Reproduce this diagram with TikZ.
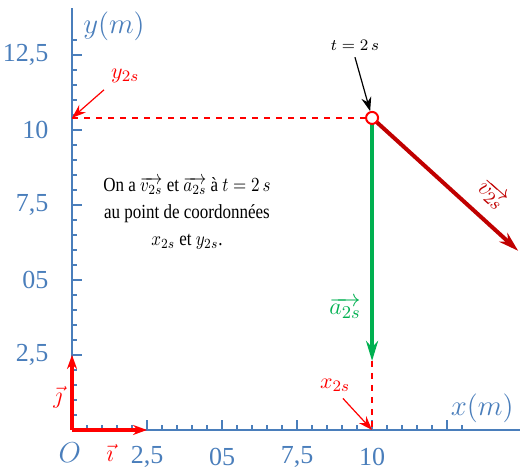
\documentclass[tikz,border=0pt]{standalone}
\usepackage{fontspec}
\setmainfont{Liberation Serif}
\usetikzlibrary{positioning,arrows.meta}
\definecolor{axisblue}{RGB}{74,126,187}
\definecolor{vred}{RGB}{192,0,0}
\definecolor{agreen}{RGB}{0,176,80}

\begin{document}
\begin{tikzpicture}[
  x=15pt, y=15pt, >={Stealth[length=7pt,width=5pt]},
  axis/.style={draw=axisblue, line width=1pt},
  tk/.style={draw=axisblue, line width=0.8pt},
  lab/.style={text=axisblue, font=\fontsize{13}{15}\selectfont},
  note/.style={text=red, font=\fontsize{11}{13}\selectfont},
  vec/.style={->, line width=2pt},
  guide/.style={draw=red, dashed, line width=0.6pt},
]
\useasboundingbox (-2.4,-1.3) rectangle (14.93,14.33);

% axes
\coordinate (O) at (0,0);
\coordinate (xend) at (14.93,0);
\coordinate (yend) at (0,14.07);
\draw[axis] (O) -- (xend);
\draw[axis] (O) -- (yend);
\foreach \k in {1,...,26}{
  \pgfmathsetmacro{\len}{ifthenelse(mod(\k,5)==0,0.34,0.17)}
  \draw[tk] (\k/2,0) -- ++(0,\len);
  \draw[tk] (0,\k/2) -- ++(\len,0);
}
\foreach \v/\t [count=\n] in {2.5/{2,5}, 5/05, 7.5/{7,5}, 10/10}
  \node[lab] (xt\n) at (\v,-0.9) {\t};
\foreach \v/\t [count=\n] in {2.5/{2,5}, 5/05, 7.5/{7,5}, 10/10, 12.5/{12,5}}
  \node[lab, anchor=east] (yt\n) at (-0.55,\v) {\t};
\node[lab, font=\fontsize{14}{16}\selectfont] (ylab) at (1.4,13.45) {$y(m)$};
\node[lab, font=\fontsize{14}{16}\selectfont] (xlab) at (13.67,0.73) {$x(m)$};
\node[lab, font=\fontsize{14}{16}\selectfont] (olab) at (-0.07,-0.75) {$O$};

% unit vectors
\coordinate (iend) at (2.5,0);
\coordinate (jend) at (0,2.5);
\draw[vec, red] (O) -- (iend);
\draw[vec, red] (O) -- (jend);
\node[text=red, font=\fontsize{13}{15}\selectfont] (ilab) at (1.27,-0.75) {$\vec{\imath}$};
\node[text=red, font=\fontsize{13}{15}\selectfont] (jlab) at (-0.47,1.1) {$\vec{\jmath}$};

% point at t = 2 s
\coordinate (P) at (10,10.4);
\coordinate (Y) at (0,10.4);
\coordinate (X) at (10,0);
\coordinate (vend) at (14.87,5.97);
\coordinate (aend) at (10,2.3);
\draw[guide] (Y) -- (P);
\draw[guide] (aend) -- (X);
\draw[vec, agreen, >={Stealth[length=10pt,width=6pt]}] (P) -- (aend);
\draw[vec, vred, >={Stealth[length=10pt,width=6pt]}] (P) -- (vend);
\node[draw=red, fill=white, circle, line width=1pt, minimum size=6pt, inner sep=0pt] (Pc) at (P) {};

% labels
\node[font=\fontsize{8.5}{10}\selectfont] (tlab) at (9.43,12.83) {$t=2\,s$};
\draw[->, line width=0.6pt] (tlab.south) -- (Pc);
\node[note] (y2s) at (1.77,11.8) {$y_{2s}$};
\draw[->, red, line width=0.6pt] (y2s.south west) -- (Y);
\node[note] (x2s) at (8.77,1.5) {$x_{2s}$};
\draw[->, red, line width=0.6pt] (x2s.300) -- (X);
\node[text=agreen, font=\fontsize{13}{15}\selectfont] (alab) at (9.1,4.07) {$\overrightarrow{a_{2s}}$};
\node[text=vred, font=\fontsize{13}{15}\selectfont, rotate=-42] (vlab) at (14.0,7.85) {$\overrightarrow{v_{2s}}$};

\node[align=center, font=\fontsize{10}{13.5}\selectfont, xscale=0.85] (txt) at (3.83,7.23)
  {On a $\overrightarrow{v_{2s}}$ et $\overrightarrow{a_{2s}}$ à $t=2\,s$\\
   au point de coordonnées\\ $x_{2s}$ et $y_{2s}$.};
\end{tikzpicture}
\end{document}
